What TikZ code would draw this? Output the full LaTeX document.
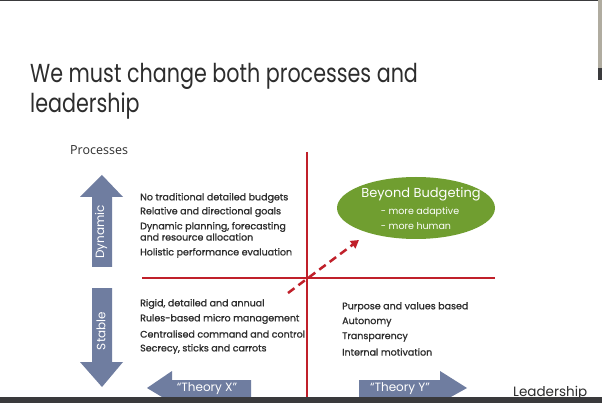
\documentclass[tikz,border=0pt]{standalone}
\usepackage{fontspec}
\setmainfont{Poppins}
\newfontfamily\procfont{Open Sans}
\newfontfamily\titlefont[FakeStretch=0.795]{Poppins}
\newfontfamily\listfont[FakeBold=1.1]{Poppins}
\usetikzlibrary{arrows.meta,shapes.geometric}
\definecolor{arrowblue}{RGB}{111,125,160}
\definecolor{axisred}{RGB}{192,32,42}
\definecolor{bbgreen}{RGB}{112,158,48}
\definecolor{txtdark}{RGB}{45,45,45}
\definecolor{barcol}{RGB}{58,58,60}
\definecolor{stripcol}{RGB}{176,172,160}
\tikzset{
  titletxt/.style={anchor=base west,inner sep=0pt,text=txtdark,font=\titlefont\fontsize{26}{30}\selectfont},
  listtxt/.style={anchor=west,inner sep=0pt,text=txtdark,font=\listfont\fontsize{9.5}{10}\selectfont},
  bigarrow/.style={fill=arrowblue},
  arrowtxt/.style={inner sep=0pt,text=white,font=\fontsize{12}{14}\selectfont},
  axis/.style={draw=axisred,line width=1.3pt},
}
\begin{document}
\begin{tikzpicture}[x=1pt,y=-1pt]
\fill[white] (0,0) rectangle (602,403);
\useasboundingbox (0,0) rectangle (602,403);
\fill[barcol] (0,0) rectangle (602,1.5);
\fill[stripcol] (598,0) rectangle (602,80);
\fill[barcol] (598,68) rectangle (602,80);

% title
\node[titletxt] (t1) at (30,83) {We must change both processes and};
\node[titletxt] (t2) at (30,113) {leadership};
\node[anchor=base west,inner sep=0pt,text=txtdark,font=\procfont\fontsize{12.5}{14}\selectfont] (proc) at (70,155) {Processes};

% axes
\coordinate (vtop) at (307,152);
\coordinate (vbot) at (307,403);
\coordinate (hl) at (142,278);
\coordinate (hr) at (495,278);
\draw[axis] (vtop) -- (vbot);
\draw[axis] (hl) -- (hr);

% ellipse
\node[ellipse,fill=bbgreen,minimum width=158pt,minimum height=62pt,inner sep=0pt] (bb) at (416,208) {};
\node[inner sep=0pt,text=white,font=\fontsize{13}{15}\selectfont] (bb1) at (421,194) {Beyond Budgeting};
\node[inner sep=0pt,text=white,font=\fontsize{9.5}{11}\selectfont] (bb2) at (420,212) {- more adaptive};
\node[inner sep=0pt,text=white,font=\fontsize{9.5}{11}\selectfont] (bb3) at (416,226) {- more human};

% dashed arrow
\coordinate (ds) at (288,293);
\coordinate (de) at (359,240);
\draw[axisred,line width=2.5pt,dash pattern=on 8pt off 5pt,-{Triangle[length=8pt,width=9pt]}] (ds) -- (de);

% lists
\node[listtxt] (a1) at (140,198) {No traditional detailed budgets};
\node[listtxt] (a2) at (140,212) {Relative and directional goals};
\node[listtxt] (a3) at (140,227) {Dynamic planning, forecasting};
\node[listtxt] (a4) at (140,237) {and resource allocation};
\node[listtxt] (a5) at (140,253) {Holistic performance evaluation};

\node[listtxt] (b1) at (140,304) {Rigid, detailed and annual};
\node[listtxt] (b2) at (140,319) {Rules-based micro management};
\node[listtxt] (b3) at (140,334) {Centralised command and control};
\node[listtxt] (b4) at (140,349) {Secrecy, sticks and carrots};

\node[listtxt] (c1) at (342,307) {Purpose and values based};
\node[listtxt] (c2) at (342,322) {Autonomy};
\node[listtxt] (c3) at (342,337) {Transparency};
\node[listtxt] (c4) at (342,352) {Internal motivation};

% vertical arrows
\fill[bigarrow] (92,267) -- (92,197) -- (80,197) -- (102,175) -- (123,197) -- (112,197) -- (112,267) -- cycle;
\node[arrowtxt,rotate=90] (dyn) at (101,232) {Dynamic};
\fill[bigarrow] (92,288) -- (112,288) -- (112,362) -- (123,362) -- (102,387) -- (80,362) -- (92,362) -- cycle;
\node[arrowtxt,rotate=90] (stab) at (101,331) {Stable};

% theory arrows
\fill[bigarrow] (147,388) -- (172,371) -- (172,380) -- (251,380) -- (251,403) -- (172,403) -- cycle;
\node[arrowtxt] (tx) at (207,389) {“Theory X”};
\fill[bigarrow] (467,388) -- (440,371) -- (440,380) -- (359,380) -- (359,403) -- (440,403) -- cycle;
\node[arrowtxt] (ty) at (400,389) {“Theory Y”};

\node[anchor=base west,inner sep=0pt,text=txtdark,font=\fontsize{13.5}{15}\selectfont] (lead) at (513,396) {Leadership};

% bottom bar
\fill[barcol] (0,397) rectangle (602,403);
\end{tikzpicture}
\end{document}
